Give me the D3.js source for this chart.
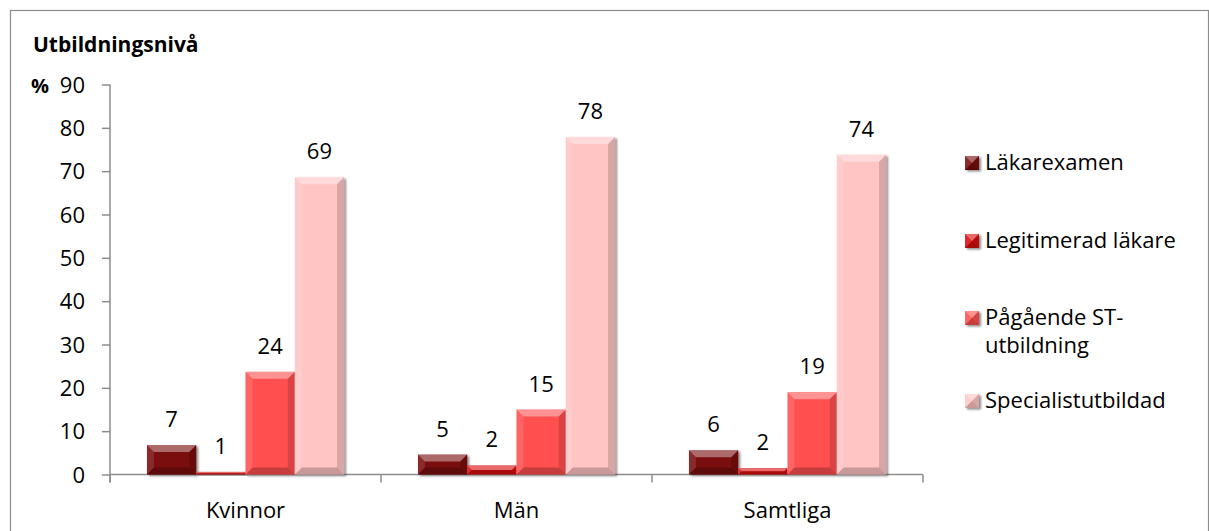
<!DOCTYPE html>
<html><head><meta charset="utf-8">
<script src="https://cdn.jsdelivr.net/npm/d3@7/dist/d3.min.js"></script>
<style>body{margin:0;background:#fff}svg{display:block}text{font-family:"Open Sans",sans-serif;fill:#000}</style>
</head><body><svg id="c" width="1209" height="531"></svg>
<script>
const categories = ["Kvinnor", "Män", "Samtliga"];
const seriesNames = ["Läkarexamen", "Legitimerad läkare", "Pågående ST-utbildning", "Specialistutbildad"];
const legendLines = [["Läkarexamen"], ["Legitimerad läkare"], ["Pågående ST-", "utbildning"], ["Specialistutbildad"]];
const lakarexamen = [6.8, 4.6, 5.6];
const legitimerad = [0.6, 2.1, 1.5];
const pagaende = [23.7, 15.0, 19.0];
const specialist = [68.6, 77.9, 73.8];
const yTicks = [0, 10, 20, 30, 40, 50, 60, 70, 80, 90];
const colors = ["#7a0a0a", "#d80f0f", "#ff5050", "#ffc4c4"];
const seriesValues = [lakarexamen, legitimerad, pagaende, specialist];

const svg = d3.select("#c");
const defs = svg.append("defs");
const f = defs.append("filter").attr("id","sh").attr("x","-20%").attr("y","-20%").attr("width","150%").attr("height","150%");
f.append("feDropShadow").attr("dx",2).attr("dy",1.5).attr("stdDeviation",1.3).attr("flood-color","#000").attr("flood-opacity",0.45);

// frame
svg.append("rect").attr("x",10.5).attr("y",10.5).attr("width",1198).attr("height",530)
  .attr("fill","none").attr("stroke","#8c8c8c").attr("stroke-width",1.2);

const x0 = d3.scaleBand().domain(categories).range([110, 923]).padding(0);
const x1 = d3.scaleBand().domain(seriesNames).range([0, x0.bandwidth()]).paddingInner(0).paddingOuter(0.75);
const y = d3.scaleLinear().domain([0, 90]).range([474.5, 84.5]);

// title
svg.append("text").attr("x",33).attr("y",52).attr("font-size",21).attr("font-weight","bold").text("Utbildningsnivå");
svg.append("text").attr("x",31).attr("y",y(90)+8).attr("font-size",20).attr("font-weight","bold").text("%");

// y axis
const ya = svg.append("g").attr("transform","translate(110,0)")
  .call(d3.axisLeft(y).tickValues(yTicks).tickSize(8).tickPadding(17).tickFormat(d3.format("d")));
ya.selectAll("text").attr("font-size",22).attr("dy","0.35em");
ya.select(".domain").attr("stroke","#8c8c8c").attr("stroke-width",1.5).attr("d","M0,"+y(90)+"V"+(y(0)+8));
ya.selectAll(".tick line").attr("stroke","#8c8c8c").attr("stroke-width",1.5);

// x axis
const xa = svg.append("g").attr("transform","translate(0,"+y(0)+")")
  .call(d3.axisBottom(x0).tickSize(0).tickPadding(28));
xa.select(".domain").attr("stroke","#8c8c8c").attr("stroke-width",1.5).attr("d","M110,0H923");
xa.selectAll("text").attr("font-size",22);
const bounds = [110].concat(categories.map(c => x0(c) + x0.bandwidth()));
xa.selectAll(".bt").data(bounds).enter().append("line").attr("class","bt")
  .attr("x1",d=>d).attr("x2",d=>d).attr("y1",0).attr("y2",8).attr("stroke","#8c8c8c").attr("stroke-width",1.5);

function bevel(g, x, yy, w, h, col) {
  const b = Math.min(7, h/2, w/2);
  g.append("rect").attr("x",x).attr("y",yy).attr("width",w).attr("height",h).attr("fill",col).attr("filter","url(#sh)");
  const P = pts => pts.map(p=>p.join(",")).join(" ");
  g.append("polygon").attr("points",P([[x,yy],[x+w,yy],[x+w-b,yy+b],[x+b,yy+b]])).attr("fill","#fff").attr("opacity",0.38);
  g.append("polygon").attr("points",P([[x,yy+h],[x+w,yy+h],[x+w-b,yy+h-b],[x+b,yy+h-b]])).attr("fill","#000").attr("opacity",0.22);
  g.append("polygon").attr("points",P([[x,yy],[x+b,yy+b],[x+b,yy+h-b],[x,yy+h]])).attr("fill","#fff").attr("opacity",0.12);
  g.append("polygon").attr("points",P([[x+w,yy],[x+w-b,yy+b],[x+w-b,yy+h-b],[x+w,yy+h]])).attr("fill","#000").attr("opacity",0.15);
}

const bars = svg.append("g");
seriesNames.forEach((s, si) => {
  categories.forEach((c, ci) => {
    const v = seriesValues[si][ci];
    const bx = x0(c) + x1(s), bw = x1.bandwidth();
    const top = y(v), h = y(0) - y(v);
    bevel(bars, bx, top, bw, h, colors[si]);
    bars.append("text").attr("x", bx + bw/2).attr("y", top - 18).attr("text-anchor","middle")
      .attr("font-size",22).text(Math.round(v));
  });
});

// legend
const legendBase = [170, 248, 325, 408];
const lg = svg.append("g");
seriesNames.forEach((s, i) => {
  bevel(lg, 965, legendBase[i]-14, 14, 14, colors[i]);
  legendLines[i].forEach((ln, k) => lg.append("text").attr("x",985).attr("y",legendBase[i] + k*28)
    .attr("font-size",22).text(ln));
});
</script></body></html>
